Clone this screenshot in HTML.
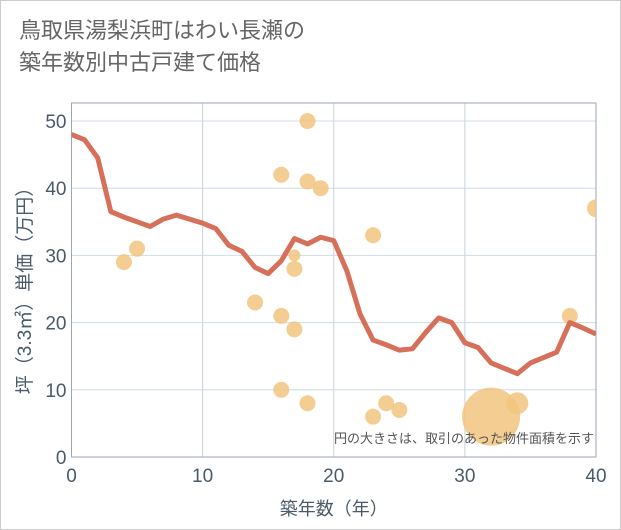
<!DOCTYPE html>
<html><head><meta charset="utf-8"><style>
body{margin:0;background:#fff;}
#wrap{width:619px;height:528px;border:1px solid #ccc;position:relative;background:#fff;font-family:"Liberation Sans","Noto Sans CJK JP",sans-serif;}
#title{position:absolute;left:18px;top:14px;font-size:22px;line-height:32px;color:#666;}
</style></head><body>
<div id="wrap">
<div id="title">鳥取県湯梨浜町はわい長瀬の<br>築年数別中古戸建て価格</div>
<svg id="chart" width="621" height="530" style="position:absolute;left:-1px;top:-1px"></svg>
</div>
<script>
const lineX=[0,1,2,3,4,5,6,7,8,9,10,11,12,13,14,15,16,17,18,19,20,21,22,23,24,25,26,27,28,29,30,31,32,33,34,35,36,37,38,39,40];
const lineY=[48,47.2,44.5,36.5,35.7,35,34.3,35.4,36,35.4,34.8,34,31.5,30.6,28.2,27.3,29.2,32.5,31.7,32.7,32.2,27.7,21.3,17.4,16.7,15.9,16.1,18.5,20.7,20,17,16.3,14,13.2,12.4,14,14.8,15.6,20,19.2,18.3];
const ptX=[4,5,14,16,16,16,17,17,17,18,18,18,19,23,23,24,25,32,34,38,40];
const ptY=[29,31,23,42,21,10,30,28,19,50,41,8,40,33,6,8,7,6,8,21,37];
const ptR=[8,8,8,8,8,8,6,8,8,8,8,8,8,8,8,8,8,29,11,8,9];
const xTicks=[0,10,20,30,40];
const yTicks=[0,10,20,30,40,50];
const L=71.5,R=596,T=103,B=457;
const sx=v=>L+(R-L)*v/40, sy=v=>B-(B-121)*v/50;
const svg=document.getElementById('chart');
const NS='http://www.w3.org/2000/svg';
function mk(t,a,p){const e=document.createElementNS(NS,t);for(const k in a)e.setAttribute(k,a[k]);(p||svg).appendChild(e);return e;}
const grid=mk('g',{});


xTicks.forEach(v=>{mk('line',{x1:sx(v),x2:sx(v),y1:T,y2:B,stroke:'#c8d2dc','stroke-width':1},grid);
 const t=mk('text',{x:sx(v),y:B+25,'text-anchor':'middle','font-size':19,fill:'#4a5a6a'});t.textContent=v;
 
 });
yTicks.forEach(v=>{mk('line',{x1:L,x2:R,y1:sy(v),y2:sy(v),stroke:'#cfdbe6','stroke-width':1},grid);
 const t=mk('text',{x:L-5,y:sy(v)+7,'text-anchor':'end','font-size':19,fill:'#4a5a6a'});t.textContent=v;
 
 });
const frame=mk('rect',{x:L,y:T,width:R-L,height:B-T,fill:'none',stroke:'#9aa6b2','stroke-width':1});


const clip=mk('clipPath',{id:'c'});mk('rect',{x:L,y:T,width:R-L,height:B-T},clip);
const pts=mk('g',{'clip-path':'url(#c)'});
ptX.forEach((x,i)=>{const c=mk('circle',{cx:sx(x),cy:sy(ptY[i]),r:ptR[i],fill:'#f2c47f','fill-opacity':0.85},pts);
 
 });
const pl=mk('polyline',{points:lineX.map((x,i)=>sx(x)+','+sy(lineY[i])).join(' '),fill:'none',stroke:'#d6705a','stroke-width':5,'stroke-linejoin':'round','clip-path':'url(#c)'});


const note=mk('text',{x:R-2,y:443,'text-anchor':'end','font-size':13,fill:'#555'});note.textContent='円の大きさは、取引のあった物件面積を示す';


const xt=mk('text',{x:(L+R)/2,y:515,'text-anchor':'middle','font-size':18,fill:'#4a5a6a'});xt.textContent='築年数（年）';


const yt=mk('text',{x:0,y:0,'text-anchor':'middle','font-size':19,fill:'#4a5a6a',transform:'translate(31,'+((T+B)/2+6)+') rotate(-90)'});yt.textContent='坪（3.3㎡）単価（万円）';


</script>
</body></html>
